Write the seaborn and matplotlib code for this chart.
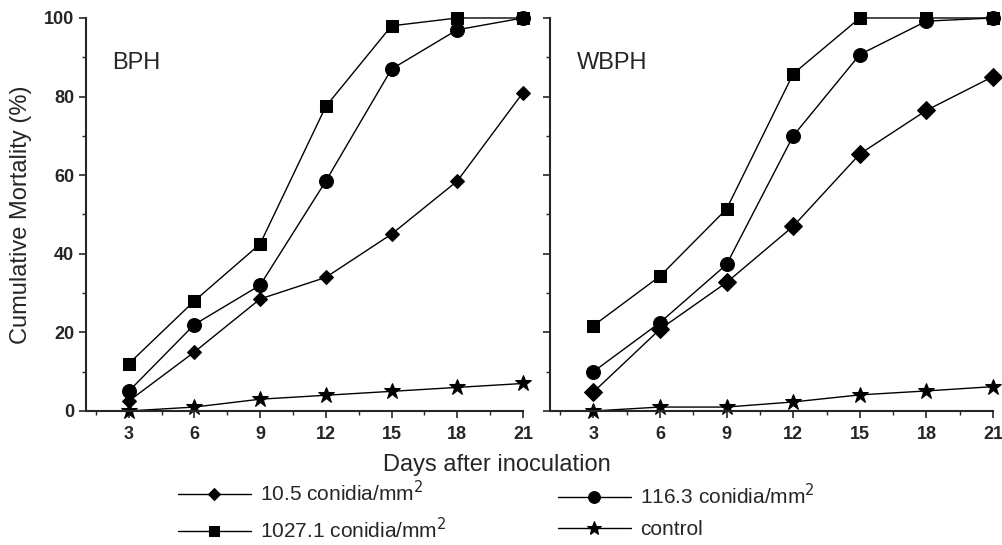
import matplotlib
matplotlib.use("Agg")
import matplotlib.pyplot as plt
from matplotlib.ticker import MultipleLocator
import pandas as pd
import seaborn as sns

days = [3, 6, 9, 12, 15, 18, 21]
series = ["10.5 conidia/mm$^2$", "116.3 conidia/mm$^2$",
          "1027.1 conidia/mm$^2$", "control"]

bph_low = [2.5, 15, 28.5, 34, 45, 58.5, 81]
bph_mid = [5, 22, 32, 58.5, 87, 97, 100]
bph_high = [12, 28, 42.5, 77.5, 98, 100, 100]
bph_ctrl = [0, 1, 3, 4, 5, 6, 7]

wbph_low = [4.8, 20.8, 32.7, 47, 65.4, 76.5, 85.1]
wbph_mid = [10, 22.5, 37.3, 70, 90.7, 99.2, 100]
wbph_high = [21.7, 34.3, 51.4, 85.8, 100, 100, 100]
wbph_ctrl = [0, 1, 1, 2.3, 4.1, 5.1, 6.2]

markers = {series[0]: "D", series[1]: "o", series[2]: "s", series[3]: "*"}


def long_table(values):
    rows = []
    for name, ys in zip(series, values):
        for d, y in zip(days, ys):
            rows.append({"day": d, "mortality": y, "series": name})
    return pd.DataFrame(rows)


sns.set_style("ticks")
plt.rcParams["font.family"] = ["Liberation Sans", "DejaVu Sans"]

fig = plt.figure(figsize=(10.03, 5.45), dpi=100)
ax1 = fig.add_axes([0.0857, 0.2459, 0.4357, 0.7211])
ax2 = fig.add_axes([0.5484, 0.2459, 0.4417, 0.7211])

panels = [(ax1, "BPH", [bph_low, bph_mid, bph_high, bph_ctrl],
           {series[0]: 7, series[1]: 10, series[2]: 9, series[3]: 12}),
          (ax2, "WBPH", [wbph_low, wbph_mid, wbph_high, wbph_ctrl],
           {series[0]: 9, series[1]: 10, series[2]: 9, series[3]: 12})]

for ax, label, values, sizes in panels:
    df = long_table(values)
    for name in series:
        sub = df[df["series"] == name]
        sns.lineplot(data=sub, x="day", y="mortality", ax=ax, color="black",
                     marker=markers[name], markersize=sizes[name],
                     markeredgecolor="black", linewidth=1, label=name,
                     legend=False, clip_on=False)
    ax.set_xlim(1.05, 21)
    ax.set_ylim(0, 100)
    ax.xaxis.set_major_locator(MultipleLocator(3))
    ax.xaxis.set_minor_locator(MultipleLocator(1.5))
    ax.yaxis.set_major_locator(MultipleLocator(20))
    ax.yaxis.set_minor_locator(MultipleLocator(10))
    ax.tick_params(which="major", length=5, width=1.2, labelsize=13)
    ax.tick_params(which="minor", length=3, width=1)
    ax.tick_params(axis="x", pad=6)
    for lab in ax.get_xticklabels() + ax.get_yticklabels():
        lab.set_fontweight("bold")
    for s in ["left", "bottom"]:
        ax.spines[s].set_linewidth(1.5)
    sns.despine(ax=ax)
    ax.set_xlabel("")
    ax.set_ylabel("")
    ax.text(0.06, 0.885, label, transform=ax.transAxes, fontsize=17,
            ha="left", va="center")

ax2.set_yticklabels([])
ax1.set_ylabel("Cumulative Mortality (%)", fontsize=17)
ax1.yaxis.set_label_coords(-0.124, 0.5)
fig.text(0.495, 0.147, "Days after inoculation", ha="center", va="center",
         fontsize=17)

lines = ax1.get_lines()
leg_kw = dict(frameon=False, fontsize=15, handlelength=3.5,
              handletextpad=0.45, labelspacing=0.55, borderpad=0,
              borderaxespad=0, loc="center left", markerscale=0.85)
fig.legend([lines[0], lines[2]], [series[0], series[2]],
           bbox_to_anchor=(178 / 1003, 0.062), **leg_kw)
fig.legend([lines[1], lines[3]], [series[1], series[3]],
           bbox_to_anchor=(558 / 1003, 0.062), **leg_kw)

fig.savefig("out.png", dpi=100)
